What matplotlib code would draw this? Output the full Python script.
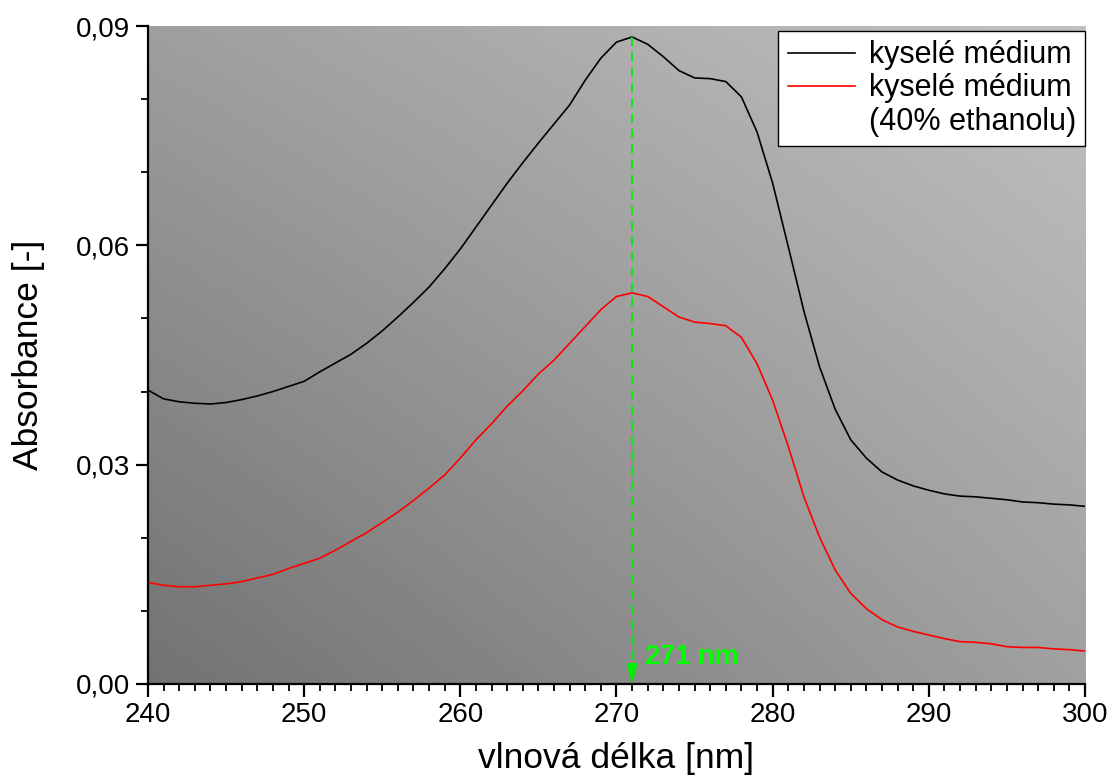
import numpy as np
import matplotlib
matplotlib.use("Agg")
import matplotlib.pyplot as plt
from matplotlib.lines import Line2D
from matplotlib.ticker import MultipleLocator, FuncFormatter

plt.rcParams['font.family'] = ['Liberation Sans', 'DejaVu Sans']

# vlnová délka [nm]
wavelength = list(range(240, 301))

# kyselé médium
abs_acid = [0.0402, 0.0390, 0.0386, 0.0384, 0.0383, 0.0385, 0.0389, 0.0394, 0.0400, 0.0407,
            0.0414, 0.0427, 0.0439, 0.0451, 0.0466, 0.0483, 0.0502, 0.0522, 0.0543, 0.0568,
            0.0595, 0.0625, 0.0655, 0.0685, 0.0713, 0.0740, 0.0766, 0.0792, 0.0826, 0.0856,
            0.0878, 0.0885, 0.0875, 0.0858, 0.0839, 0.0829, 0.0828, 0.0824, 0.0803, 0.0755,
            0.0685, 0.0598, 0.0510, 0.0434, 0.0376, 0.0334, 0.0309, 0.0290, 0.0279, 0.0271,
            0.0265, 0.0260, 0.0257, 0.0256, 0.0254, 0.0252, 0.0249, 0.0248, 0.0246, 0.0245,
            0.0243]

# kyselé médium (40% ethanolu)
abs_ethanol = [0.0139, 0.0135, 0.0133, 0.0133, 0.0135, 0.0137, 0.0140, 0.0145, 0.0150, 0.0158,
               0.0165, 0.0172, 0.0183, 0.0195, 0.0207, 0.0221, 0.0235, 0.0251, 0.0268, 0.0286,
               0.0309, 0.0334, 0.0356, 0.0380, 0.0401, 0.0424, 0.0443, 0.0466, 0.0489, 0.0512,
               0.0530, 0.0535, 0.0530, 0.0516, 0.0502, 0.0495, 0.0493, 0.0490, 0.0474, 0.0438,
               0.0388, 0.0325, 0.0256, 0.0201, 0.0156, 0.0124, 0.0103, 0.0088, 0.0078, 0.0072,
               0.0067, 0.0062, 0.0058, 0.0057, 0.0055, 0.0051, 0.0050, 0.0050, 0.0048, 0.0047,
               0.0045]

peak_nm = 271
peak_abs = 0.0885

fig = plt.figure(figsize=(11.11, 7.81), dpi=100)
ax = fig.add_axes([0.1332, 0.1242, 0.8434, 0.8425])

# šedý gradient v pozadí
u = np.linspace(0, 1, 200)
v = np.linspace(0, 1, 200)
U, V = np.meshgrid(u, v)
gray = (114 + 46 * U + 44 * V - 12 * U * V) / 255.0
ax.imshow(gray, cmap='gray', vmin=0, vmax=1, origin='lower',
          extent=[0, 1, 0, 1], transform=ax.transAxes, aspect='auto', zorder=0)

ax.plot(wavelength, abs_acid, color='black', lw=1.2, zorder=3)
ax.plot(wavelength, abs_ethanol, color='#ff0000', lw=1.2, zorder=3)

# značka maxima
ax.plot([peak_nm, peak_nm], [peak_abs, 0.0015], color='#00ee00', lw=1.3,
        dashes=(5, 3.5), zorder=4)
ax.annotate('', xy=(peak_nm, 0), xytext=(peak_nm, 0.0028),
            arrowprops=dict(arrowstyle='-|>,head_length=0.8,head_width=0.22',
                            mutation_scale=15, color='#00ee00', lw=1.3,
                            shrinkA=0, shrinkB=0), zorder=4)
ax.text(271.8, 0.0037, '271 nm', color='#00ff00', fontsize=19.5, fontweight='bold',
        va='center', ha='left', zorder=4)

ax.set_xlim(240, 300)
ax.set_ylim(0, 0.09)
ax.xaxis.set_major_locator(MultipleLocator(10))
ax.xaxis.set_minor_locator(MultipleLocator(1))
ax.yaxis.set_major_locator(MultipleLocator(0.03))
ax.yaxis.set_minor_locator(MultipleLocator(0.01))
ax.yaxis.set_major_formatter(FuncFormatter(lambda y, p: f'{y:.2f}'.replace('.', ',')))

for side in ['top', 'right']:
    ax.spines[side].set_visible(False)
for side in ['left', 'bottom']:
    ax.spines[side].set_linewidth(1.6)
    ax.spines[side].set_zorder(5)

ax.tick_params(which='major', direction='out', length=9, width=1.6, labelsize=20, pad=4)
ax.tick_params(which='minor', direction='out', length=5, width=1.3)

ax.set_xlabel('vlnová délka [nm]', fontsize=25.5, labelpad=10)
ax.set_ylabel('Absorbance [-]', fontsize=25.5, labelpad=22)

# legenda: druhý popisek na dva řádky, čára u prvního řádku
handles = [Line2D([], [], color='black', lw=1.2),
           Line2D([], [], color='#ff0000', lw=1.2),
           Line2D([], [], color='none')]
labels = ['kyselé médium', 'kyselé médium', '(40% ethanolu)']
leg = ax.legend(handles, labels, loc='upper right', bbox_to_anchor=(1.0, 0.992),
                fontsize=22, frameon=True, fancybox=False, framealpha=1,
                edgecolor='black', handlelength=2.2, handletextpad=0.45,
                labelspacing=0.1, borderpad=0.3, borderaxespad=0)
leg.get_frame().set_linewidth(1.0)
leg.set_zorder(6)

fig.savefig('out.png', dpi=100)
